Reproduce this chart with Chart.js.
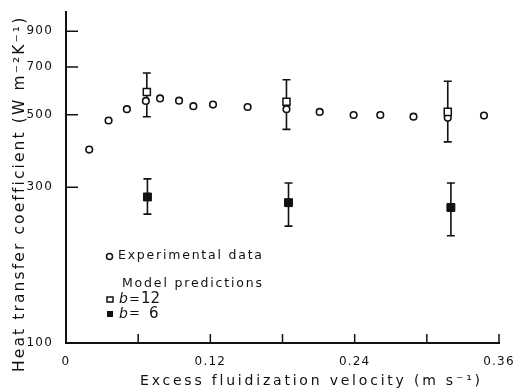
<!DOCTYPE html>
<html><head><meta charset="utf-8">
<script src="https://cdn.jsdelivr.net/npm/chart.js@4/dist/chart.umd.min.js"></script>
<style>html,body{margin:0;padding:0;background:#fff}</style>
</head><body>
<canvas id="c" width="520" height="390"></canvas>
<script>
// ---- data ----
const xTickLabels = [0, 0.12, 0.24, 0.36];
const xMinorTicks = [0.06, 0.12, 0.18, 0.24, 0.30, 0.36];
const yTickLabels = [100, 300, 500, 700, 900];
const yInnerTicks = [300, 500, 700, 900];

const expX = [0.0193, 0.0354, 0.0506, 0.0664, 0.0782, 0.0940, 0.1059, 0.1222, 0.1510, 0.1833, 0.2109, 0.2391, 0.2613, 0.2889, 0.3174, 0.3475];
const expY = [391, 480, 520, 551, 561, 552, 531, 537, 528, 520, 510, 499, 499, 493, 489, 497];

const b12X = [0.0672, 0.1833, 0.3174];
const b12Y = [587, 548, 510];
const b12Lo = [493, 451, 413];
const b12Hi = [671, 640, 633];

const b6X = [0.0677, 0.1850, 0.3200];
const b6Y = [280, 269, 260];
const b6Lo = [248, 228, 213];
const b6Hi = [318, 309, 309];

const FONT = "'DejaVu Sans', sans-serif";
const INK = '#111';

function pts(xs, ys){ return xs.map((x,i)=>({x:x, y:ys[i]})); }

function spaced(ctx, text, left, cy, target){
  ctx.letterSpacing = '0px';
  const w = ctx.measureText(text).width;
  const s = Math.max(0, (target - w) / Math.max(1, text.length - 1));
  ctx.letterSpacing = s + 'px';
  ctx.textAlign = 'left';
  ctx.textBaseline = 'middle';
  ctx.fillText(text, left, cy);
  ctx.letterSpacing = '0px';
}

const tickSpacing = {
  id: 'tickSpacing',
  beforeDraw(chart){ chart.ctx.letterSpacing = '1.2px'; },
  afterDatasetsDraw(chart){ chart.ctx.letterSpacing = '0px'; }
};

const errorBars = {
  id: 'errorBars',
  beforeDatasetsDraw(chart){
    const ctx = chart.ctx, xs = chart.scales.x, ys = chart.scales.y;
    ctx.save();
    ctx.strokeStyle = INK; ctx.lineWidth = 1.6;
    chart.data.datasets.forEach(ds => {
      if (!ds.errLow) return;
      ds.data.forEach((p, i) => {
        const x = xs.getPixelForValue(p.x);
        const y1 = ys.getPixelForValue(ds.errLow[i]);
        const y2 = ys.getPixelForValue(ds.errHigh[i]);
        ctx.beginPath();
        ctx.moveTo(x, y1); ctx.lineTo(x, y2);
        ctx.moveTo(x - 4, y1); ctx.lineTo(x + 4, y1);
        ctx.moveTo(x - 4, y2); ctx.lineTo(x + 4, y2);
        ctx.stroke();
      });
    });
    ctx.restore();
  }
};

const decorations = {
  id: 'decorations',
  afterDraw(chart){
    const ctx = chart.ctx, xs = chart.scales.x, ys = chart.scales.y, a = chart.chartArea;
    ctx.save();
    ctx.letterSpacing = '0px';
    ctx.strokeStyle = INK; ctx.lineWidth = 1.5;
    // inward ticks
    ctx.beginPath();
    xMinorTicks.forEach(v => { const x = xs.getPixelForValue(v); ctx.moveTo(x, a.bottom); ctx.lineTo(x, a.bottom - 9); });
    yInnerTicks.forEach(v => { const y = ys.getPixelForValue(v); ctx.moveTo(a.left, y); ctx.lineTo(a.left + 12, y); });
    ctx.stroke();

    ctx.fillStyle = INK;
    // axis titles
    ctx.font = '14px ' + FONT;
    spaced(ctx, 'Excess fluidization velocity (m s\u207B\u00B9)', 140, 381, 340);
    ctx.save();
    ctx.translate(20, 195);
    ctx.rotate(-Math.PI / 2);
    ctx.font = '15.5px ' + FONT;
    spaced(ctx, 'Heat transfer coefficient (W m\u207B\u00B2K\u207B\u00B9)', -177, 0, 354);
    ctx.restore();

    // legend
    ctx.lineWidth = 1.5;
    ctx.beginPath(); ctx.arc(109.5, 256.5, 3, 0, Math.PI * 2); ctx.stroke();
    ctx.font = '12.5px ' + FONT;
    spaced(ctx, 'Experimental data', 118, 255.5, 144);
    spaced(ctx, 'Model predictions', 122, 283.5, 140);
    ctx.strokeRect(107, 297, 6, 5);
    ctx.fillRect(107, 311, 6, 6);
    ctx.textBaseline = 'middle'; ctx.textAlign = 'left';
    ctx.font = 'italic 14px ' + FONT;
    ctx.fillText('b', 119, 299.5);
    ctx.fillText('b', 119, 314);
    ctx.font = '13px ' + FONT;
    ctx.fillText('=', 129, 299.5);
    ctx.fillText('=', 129, 314);
    ctx.font = '15px ' + FONT;
    ctx.fillText('12', 141, 299.5);
    ctx.fillText('6', 149, 314);
    ctx.restore();
  }
};

new Chart(document.getElementById('c'), {
  type: 'scatter',
  data: {
    datasets: [
      { label: 'b = 12', data: pts(b12X, b12Y), errLow: b12Lo, errHigh: b12Hi,
        pointStyle: 'rect', pointRadius: 5, borderColor: INK, backgroundColor: '#fff', borderWidth: 1.5 },
      { label: 'b = 6', data: pts(b6X, b6Y), errLow: b6Lo, errHigh: b6Hi,
        pointStyle: 'rect', pointRadius: 5.6, borderColor: INK, backgroundColor: INK, borderWidth: 1 },
      { label: 'Experimental data', data: pts(expX, expY),
        pointStyle: 'circle', pointRadius: 3.3, borderColor: INK, backgroundColor: '#fff', borderWidth: 1.6 }
    ]
  },
  options: {
    responsive: false,
    animation: false,
    devicePixelRatio: 1,
    layout: { padding: { top: 8, right: 21, left: 0, bottom: 0 } },
    plugins: { legend: { display: false }, tooltip: { enabled: false } },
    scales: {
      x: {
        type: 'linear', min: 0, max: 0.36,
        afterBuildTicks(s){ s.ticks = xTickLabels.map(v => ({ value: v })); },
        afterFit(s){ s.height = 47; },
        grid: { display: false },
        border: { display: true, color: INK, width: 2 },
        ticks: { color: INK, padding: 4, maxRotation: 0, autoSkip: false,
                 font: { family: FONT, size: 12 },
                 callback: v => (v === 0 ? '0' : v.toFixed(2)) }
      },
      y: {
        type: 'logarithmic', min: 100, max: 1030,
        afterBuildTicks(s){ s.ticks = yTickLabels.map(v => ({ value: v })); },
        afterFit(s){ s.width = 66; },
        grid: { display: false },
        border: { display: true, color: INK, width: 2 },
        ticks: { color: INK, padding: 5, autoSkip: false,
                 font: { family: FONT, size: 12 },
                 callback: v => String(v) }
      }
    }
  },
  plugins: [tickSpacing, errorBars, decorations]
});
</script>
</body></html>
